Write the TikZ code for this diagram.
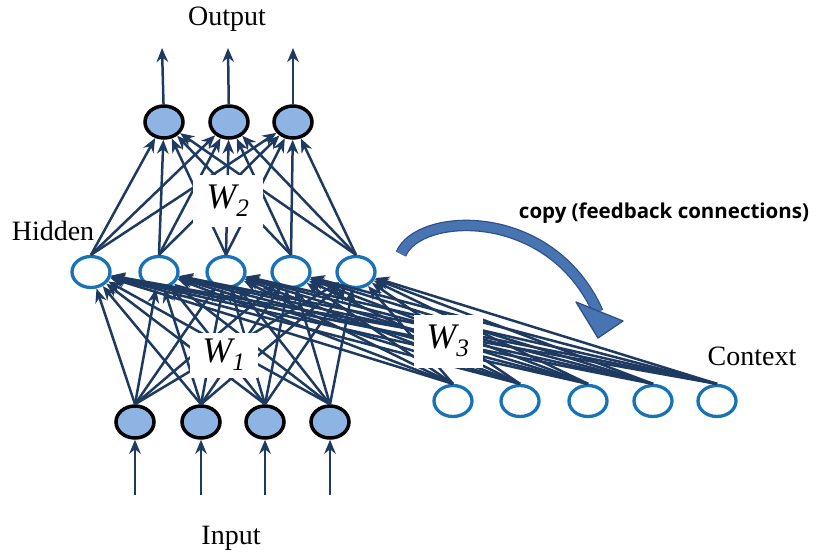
\documentclass[tikz,border=0pt]{standalone}
\usepackage{fontspec}
\newfontfamily\copyfont{Open Sans}
\newfontfamily\labelfont{Liberation Serif}
\usetikzlibrary{shapes.geometric,arrows.meta}

\definecolor{wirecol}{RGB}{31,58,96}
\definecolor{unitblue}{RGB}{142,180,227}
\definecolor{ringblue}{RGB}{24,114,184}
\definecolor{copyfill}{RGB}{72,116,178}
\definecolor{copyedge}{RGB}{44,80,138}

\begin{document}
\begin{tikzpicture}[x=1pt,y=-1pt,
  wire/.style={draw=wirecol, line width=2.5pt, -{Stealth[length=14pt,width=11.5pt,inset=4.5pt]}},
  unitfilled/.style={ellipse, draw=black, line width=3.5pt, fill=unitblue,
    minimum width=38pt, minimum height=32pt, inner sep=0pt},
  unitopen/.style={ellipse, draw=ringblue, line width=3.3pt, fill=white,
    minimum width=38pt, minimum height=31pt, inner sep=0pt},
  lbl/.style={font=\labelfont\fontsize{28}{32}\selectfont, inner sep=0pt},
  wbox/.style={fill=white, inner sep=0pt, font=\labelfont\fontsize{36}{40}\selectfont\itshape},
]
\useasboundingbox (0,0) rectangle (830,554);

% layers of units
\foreach \i/\x in {1/164,2/229,3/293}
  \node[unitfilled] (o\i) at (\x,122) {};
\foreach \i/\x in {1/91,2/159,3/226,4/291,5/356}
  \node[unitopen] (h\i) at (\x,272) {};
\foreach \i/\x in {1/135,2/201,3/265,4/330}
  \node[unitfilled] (i\i) at (\x,422) {};
\foreach \i/\x in {1/453,2/520,3/588,4/653,5/717}
  \node[unitopen] (c\i) at (\x,401) {};

% free ends of the input and output arrows
\foreach \i/\x in {1/135,2/201,3/265,4/330}
  \coordinate (ii\i) at (\x,495);
\foreach \i/\x in {1/162,2/228,3/293}
  \coordinate (oo\i) at (\x,48);

% weights
\foreach \a in {1,...,4}
  \foreach \b in {1,...,5}
    \draw[wire] (i\a.north) -- (h\b);
\foreach \a in {1,...,5}
  \foreach \b in {1,...,5}
    \draw[wire] (c\a.north) -- (h\b);
\foreach \a in {1,...,5}
  \foreach \b in {1,2,3}
    \draw[wire] (h\a.north) -- (o\b);

\foreach \i in {1,...,4}
  \draw[wire] (ii\i) -- (i\i);
\foreach \i in {1,2,3}
  \draw[wire] (o\i) -- (oo\i);

% weight matrix labels
\node[wbox, minimum width=70pt, minimum height=52pt] (w2) at (228,201) {W\textsubscript{2}};
\node[wbox, minimum width=68pt, minimum height=45pt] (w1) at (224,355) {W\textsubscript{1}};
\node[wbox, minimum width=69pt, minimum height=53pt] (w3) at (448,341) {W\textsubscript{3}};

% layer names
\node[lbl] (tout) at (227,19) {Output};
\node[lbl] (thid) at (53,231) {Hidden};
\node[lbl] (tin) at (231,538) {Input};
\node[lbl] (tctx) at (752,356) {Context};

% copy arrow
\draw[copyedge, line width=11.5pt] (401,254) .. controls (418,212) and (550,205) .. (598,312);
\draw[copyfill, line width=9pt] (401,254) .. controls (418,212) and (550,205) .. (598,312);
\filldraw[fill=copyfill, draw=copyedge, line width=1.3pt, line join=round]
  (576,302) -- (623,321) -- (598,338) -- cycle;
\node[font=\copyfont\bfseries\fontsize{20.5}{24}\selectfont, inner sep=0pt] (tcopy) at (664,213)
  {copy (feedback connections)};
\end{tikzpicture}
\end{document}
